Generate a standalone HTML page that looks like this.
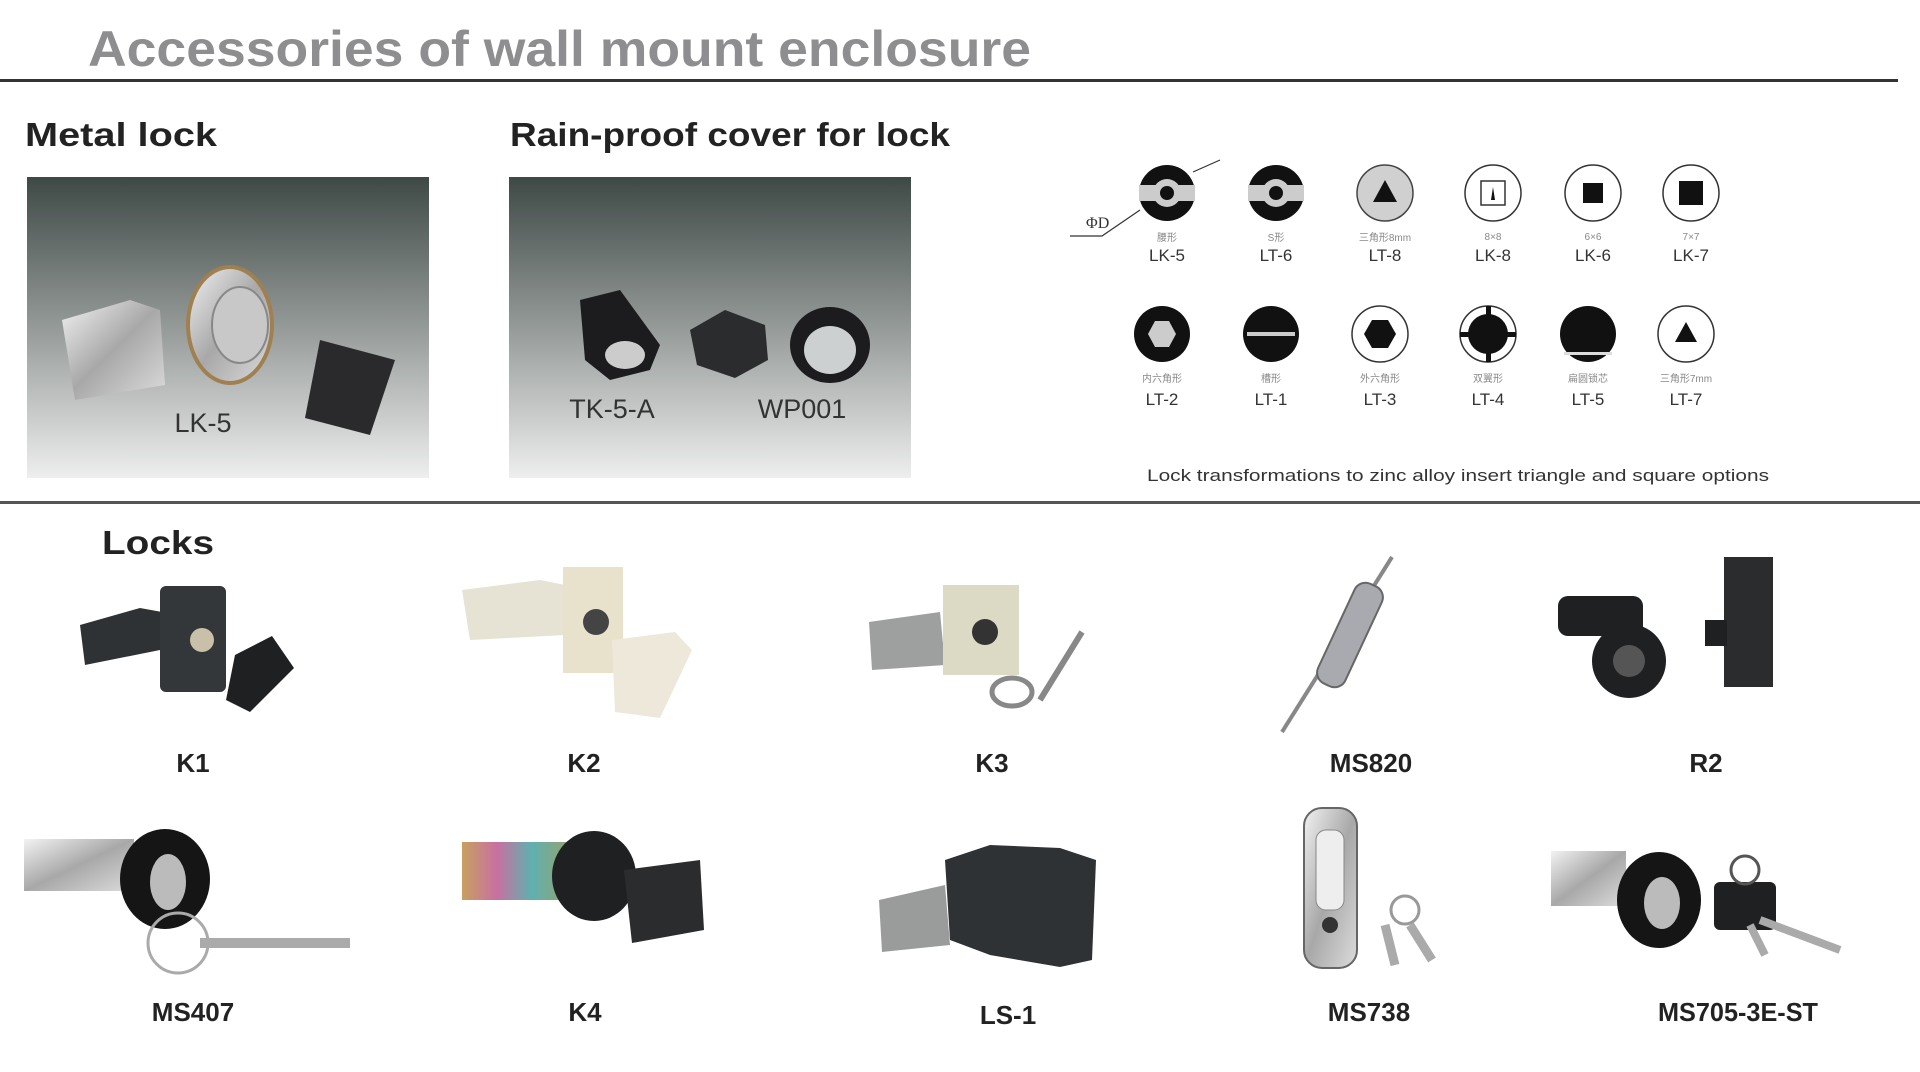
<!DOCTYPE html>
<html><head><meta charset="utf-8"><style>html,body{margin:0;padding:0;background:#fff}svg{display:block}</style></head>
<body>
<svg width="1920" height="1072" viewBox="0 0 1920 1072" xmlns="http://www.w3.org/2000/svg" font-family="Liberation Sans, sans-serif">
<defs>
<linearGradient id="bg" x1="0" y1="0" x2="0" y2="1">
<stop offset="0" stop-color="#3e4946"/><stop offset="0.45" stop-color="#8c9290"/><stop offset="1" stop-color="#eeeeee"/>
</linearGradient>
<linearGradient id="silver" x1="0" y1="0" x2="1" y2="1">
<stop offset="0" stop-color="#f2f2f2"/><stop offset="0.5" stop-color="#a8a8a8"/><stop offset="1" stop-color="#dcdcdc"/>
</linearGradient>
<linearGradient id="rainbow" x1="0" y1="0" x2="1" y2="0">
<stop offset="0" stop-color="#c8a060"/><stop offset="0.3" stop-color="#c870a0"/><stop offset="0.6" stop-color="#60b0b0"/><stop offset="1" stop-color="#a0a060"/>
</linearGradient>
</defs>

<text x="88" y="66" font-size="50" font-weight="bold" fill="#8e8e90" textLength="943" lengthAdjust="spacingAndGlyphs">Accessories of wall mount enclosure</text>
<rect x="0" y="79" width="1898" height="3" fill="#333"/>

<text x="25" y="146" font-size="33" font-weight="bold" fill="#222" textLength="192" lengthAdjust="spacingAndGlyphs">Metal lock</text>
<text x="510" y="146" font-size="33" font-weight="bold" fill="#222" textLength="440" lengthAdjust="spacingAndGlyphs">Rain-proof cover for lock</text>

<rect x="27" y="177" width="402" height="301" fill="url(#bg)"/>
<rect x="509" y="177" width="402" height="301" fill="url(#bg)"/>
<!-- LK-5 photo -->
<path d="M62 320 L130 300 L160 310 L165 385 L75 400 Z" fill="url(#silver)"/>
<ellipse cx="230" cy="325" rx="42" ry="58" fill="url(#silver)" stroke="#a08050" stroke-width="4"/>
<ellipse cx="240" cy="325" rx="28" ry="38" fill="#c8c8c8" stroke="#888" stroke-width="2"/>
<path d="M320 340 L395 360 L370 435 L305 418 Z" fill="#2a2a2c"/>
<text x="203" y="432" font-size="27" fill="#333" text-anchor="middle">LK-5</text>
<!-- TK/WP photo -->
<path d="M580 300 L620 290 L660 345 L650 370 L610 380 L585 360 Z" fill="#1c1c1e"/>
<ellipse cx="625" cy="355" rx="20" ry="14" fill="#ccc"/>
<polygon points="690,330 725,310 765,325 768,360 735,378 697,365" fill="#2a2c2e"/>
<ellipse cx="830" cy="345" rx="40" ry="38" fill="#1c1c1e"/>
<ellipse cx="830" cy="350" rx="26" ry="24" fill="#ccd0d0"/>
<text x="612" y="418" font-size="27" fill="#333" text-anchor="middle">TK-5-A</text>
<text x="802" y="418" font-size="27" fill="#333" text-anchor="middle">WP001</text>

<!-- lock icons row 1 -->
<g>
<circle cx="1167" cy="193" r="28" fill="#111"/>
<rect x="1139" y="185" width="56" height="16" fill="#ccc"/>
<circle cx="1167" cy="193" r="14" fill="#ccc"/><circle cx="1167" cy="193" r="7" fill="#111"/>
<circle cx="1276" cy="193" r="28" fill="#111"/>
<rect x="1248" y="185" width="56" height="16" fill="#ccc"/>
<circle cx="1276" cy="193" r="14" fill="#ccc"/><circle cx="1276" cy="193" r="7" fill="#111"/>
<circle cx="1385" cy="193" r="28" fill="#d0d0d0" stroke="#444" stroke-width="1.5"/>
<polygon points="1385,180 1397,202 1373,202" fill="#111"/>
<circle cx="1493" cy="193" r="28" fill="#fff" stroke="#333" stroke-width="1.5"/>
<rect x="1481" y="181" width="24" height="24" fill="#fff" stroke="#333" stroke-width="1.5"/>
<polygon points="1493,187 1495,200 1491,200" fill="#111"/>
<circle cx="1593" cy="193" r="28" fill="#fff" stroke="#333" stroke-width="1.5"/>
<rect x="1583" y="183" width="20" height="20" fill="#111"/>
<circle cx="1691" cy="193" r="28" fill="#fff" stroke="#333" stroke-width="1.5"/>
<rect x="1679" y="181" width="24" height="24" fill="#111"/>
<path d="M1070 236 L1102 236 L1140 210" stroke="#333" stroke-width="1.2" fill="none"/>
<path d="M1193 172 L1220 160" stroke="#333" stroke-width="1.2"/>
<text x="1086" y="228" font-size="16" font-family="Liberation Serif, serif" fill="#333">ΦD</text>
</g>
<g font-size="10" fill="#888" text-anchor="middle" font-family="Liberation Sans, Noto Sans CJK SC, sans-serif">
<text x="1167" y="241">腰形</text><text x="1276" y="241">S形</text><text x="1385" y="241">三角形8mm</text>
<text x="1493" y="240">8×8</text><text x="1593" y="240">6×6</text><text x="1691" y="240">7×7</text>
<text x="1162" y="382">内六角形</text><text x="1271" y="382">槽形</text><text x="1380" y="382">外六角形</text>
<text x="1488" y="382">双翼形</text><text x="1588" y="382">扁圆锁芯</text><text x="1686" y="382">三角形7mm</text>
</g>
<g font-size="17" fill="#333" text-anchor="middle">
<text x="1167" y="261">LK-5</text><text x="1276" y="261">LT-6</text><text x="1385" y="261">LT-8</text>
<text x="1493" y="261">LK-8</text><text x="1593" y="261">LK-6</text><text x="1691" y="261">LK-7</text>
<text x="1162" y="405">LT-2</text><text x="1271" y="405">LT-1</text><text x="1380" y="405">LT-3</text>
<text x="1488" y="405">LT-4</text><text x="1588" y="405">LT-5</text><text x="1686" y="405">LT-7</text>
</g>
<!-- row 2 icons -->
<circle cx="1162" cy="334" r="28" fill="#111"/>
<polygon points="1148,334 1155,321 1169,321 1176,334 1169,347 1155,347" fill="#ccc"/>
<circle cx="1271" cy="334" r="28" fill="#111"/>
<rect x="1247" y="332" width="48" height="4" fill="#ccc"/>
<circle cx="1380" cy="334" r="28" fill="#fff" stroke="#333" stroke-width="1.5"/>
<polygon points="1364,334 1372,320 1388,320 1396,334 1388,348 1372,348" fill="#111"/>
<circle cx="1488" cy="334" r="28" fill="#fff" stroke="#333" stroke-width="1.5"/>
<circle cx="1488" cy="334" r="20" fill="#111"/>
<rect x="1460" y="332" width="56" height="5" fill="#111"/><rect x="1486" y="306" width="5" height="56" fill="#111"/>
<circle cx="1588" cy="334" r="28" fill="#111"/>
<rect x="1564" y="352" width="48" height="3" fill="#ddd"/>
<circle cx="1686" cy="334" r="28" fill="#fff" stroke="#333" stroke-width="1.5"/>
<polygon points="1686,322 1697,342 1675,342" fill="#111"/>

<text x="1147" y="481" font-size="17" fill="#333" textLength="622" lengthAdjust="spacingAndGlyphs">Lock transformations to zinc alloy insert triangle and square options</text>
<rect x="0" y="501" width="1920" height="3" fill="#555"/>

<text x="102" y="554" font-size="33" font-weight="bold" fill="#222" textLength="112" lengthAdjust="spacingAndGlyphs">Locks</text>

<!-- K1 -->
<path d="M80 625 L140 608 L162 612 L160 650 L85 665 Z" fill="#2e3234"/>
<rect x="160" y="586" width="66" height="106" rx="6" fill="#33373a"/>
<circle cx="202" cy="640" r="12" fill="#c8c0a8"/>
<path d="M235 655 L272 636 L294 668 L250 712 L226 700 Z" fill="#1e2022"/>
<!-- K2 -->
<path d="M462 590 L540 580 L565 585 L565 635 L470 640 Z" fill="#e6e2d4"/>
<rect x="563" y="567" width="60" height="106" fill="#e8e2cc"/>
<circle cx="596" cy="622" r="13" fill="#444"/>
<path d="M612 640 L675 632 L692 650 L660 718 L615 712 Z" fill="#ede8da"/>
<!-- K3 -->
<path d="M869 622 L940 612 L945 665 L872 670 Z" fill="#9ea0a0"/>
<rect x="943" y="585" width="76" height="90" fill="#dcdac4"/>
<circle cx="985" cy="632" r="13" fill="#333"/>
<path d="M1040 700 L1082 632" stroke="#888" stroke-width="6"/>
<ellipse cx="1012" cy="692" rx="20" ry="14" fill="none" stroke="#888" stroke-width="5"/>
<!-- MS820 -->
<path d="M1282 732 L1392 557" stroke="#888" stroke-width="4"/>
<rect x="1335" y="580" width="30" height="110" rx="12" transform="rotate(25 1350 635)" fill="#a8aab0" stroke="#666" stroke-width="2"/>
<!-- R2 -->
<rect x="1558" y="596" width="85" height="40" rx="10" fill="#1e2022"/>
<circle cx="1629" cy="661" r="37" fill="#1e2022"/>
<circle cx="1629" cy="661" r="16" fill="#555"/>
<rect x="1724" y="557" width="49" height="130" fill="#2a2c2e"/>
<rect x="1705" y="620" width="22" height="26" fill="#1e2022"/>

<!-- MS407 -->
<rect x="24" y="839" width="110" height="52" fill="url(#silver)"/>
<ellipse cx="165" cy="879" rx="45" ry="50" fill="#151515"/>
<ellipse cx="168" cy="882" rx="18" ry="28" fill="#bbb"/>
<circle cx="178" cy="943" r="30" fill="none" stroke="#aaa" stroke-width="3"/>
<rect x="200" y="938" width="150" height="10" fill="#aaa"/>
<!-- K4 -->
<rect x="462" y="842" width="116" height="58" fill="url(#rainbow)"/>
<ellipse cx="594" cy="876" rx="42" ry="45" fill="#1e2022"/>
<path d="M624 870 L700 860 L704 930 L632 943 Z" fill="#2a2c2e"/>
<!-- LS-1 -->
<path d="M879 900 L945 885 L950 945 L882 952 Z" fill="#9a9c9c"/>
<path d="M945 860 L990 845 L1060 848 L1096 860 L1092 960 L1060 967 L990 955 L950 940 Z" fill="#2e3234"/>
<!-- MS738 -->
<rect x="1304" y="808" width="53" height="160" rx="18" fill="url(#silver)" stroke="#666" stroke-width="2"/>
<rect x="1316" y="830" width="28" height="80" rx="10" fill="#eee" stroke="#888"/>
<circle cx="1330" cy="925" r="8" fill="#333"/>
<circle cx="1405" cy="910" r="14" fill="none" stroke="#999" stroke-width="3"/>
<path d="M1385 925 L1395 965 M1410 925 L1432 960" stroke="#aaa" stroke-width="9"/>
<!-- MS705 -->
<rect x="1551" y="851" width="75" height="55" fill="url(#silver)"/>
<ellipse cx="1659" cy="900" rx="42" ry="48" fill="#151515"/>
<ellipse cx="1662" cy="903" rx="18" ry="26" fill="#bbb"/>
<rect x="1714" y="882" width="62" height="48" rx="6" fill="#1e2022"/>
<path d="M1760 920 L1840 950 M1750 925 L1765 955" stroke="#aaa" stroke-width="8"/>
<circle cx="1745" cy="870" r="14" fill="none" stroke="#555" stroke-width="3"/>

<g font-size="26" font-weight="bold" fill="#222" text-anchor="middle">
<text x="193" y="772">K1</text><text x="584" y="772">K2</text><text x="992" y="772">K3</text>
<text x="1371" y="772">MS820</text><text x="1706" y="772">R2</text>
<text x="193" y="1021">MS407</text><text x="585" y="1021">K4</text><text x="1008" y="1024">LS-1</text>
<text x="1369" y="1021">MS738</text><text x="1738" y="1021" textLength="160" lengthAdjust="spacingAndGlyphs">MS705-3E-ST</text>
</g>
</svg>
</body></html>
